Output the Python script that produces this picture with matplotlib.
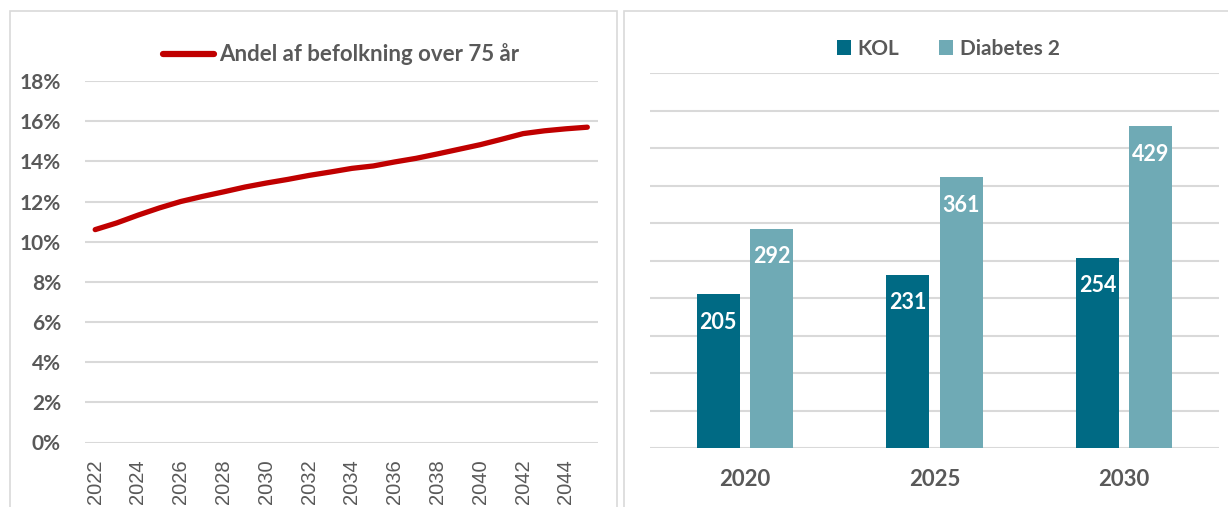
import matplotlib
matplotlib.use("Agg")
import matplotlib.pyplot as plt
from matplotlib.patches import Rectangle
from matplotlib.lines import Line2D

# ---- data ----
years = list(range(2022, 2046))
share_75plus = [10.6, 10.93, 11.32, 11.68, 12.0, 12.25, 12.48, 12.72, 12.92, 13.1,
                13.3, 13.47, 13.65, 13.77, 13.97, 14.15, 14.37, 14.6, 14.83, 15.1,
                15.38, 15.52, 15.62, 15.7]
line_label = "Andel af befolkning over 75 år"
year_ticks = list(range(2022, 2046, 2))
pct_ticks = [0, 2, 4, 6, 8, 10, 12, 14, 16, 18]

bar_categories = ["2020", "2025", "2030"]
kol = [205, 231, 254]
diabetes2 = [292, 361, 429]
series_names = ["KOL", "Diabetes 2"]

# ---- style ----
W, H = 1228, 507
GRAY = "#595959"
GRID = "#D9D9D9"
RED = "#C00000"
KOL_C = "#006A84"
DIA_C = "#6FAAB5"
BFONT = "Lato"
TFONT = "Liberation Sans"

fig = plt.figure(figsize=(W / 100, H / 100), dpi=100)
fig.patch.set_facecolor("white")


def fx(px):
    return px / W


def fy(py):
    return (H - py) / H


# panel borders
for (x0, x1) in [(10, 617), (624, 1240)]:
    fig.add_artist(Rectangle((fx(x0), fy(530)), fx(x1) - fx(x0), fy(10.5) - fy(530),
                             transform=fig.transFigure, fill=False,
                             edgecolor=GRID, linewidth=1.2))

# ---- left: line chart ----
axL = fig.add_axes([fx(84.5), fy(442.5), fx(598) - fx(84.5), fy(81) - fy(442.5)])
axL.plot(years, share_75plus, color=RED, linewidth=3.8, solid_capstyle="round")
axL.set_xlim(2021.5, 2045.5)
axL.set_ylim(0, 18)
axL.set_yticks(pct_ticks)
axL.set_yticklabels([f"{v}%" for v in pct_ticks], fontfamily=BFONT,
                    fontweight="bold", fontsize=15, color=GRAY)
axL.set_xticks(year_ticks)
axL.set_xticklabels([str(y) for y in year_ticks], rotation=90, fontfamily=TFONT,
                    fontsize=14.5, color=GRAY, va="top")
axL.tick_params(axis="both", length=0)
axL.tick_params(axis="y", pad=17)
axL.tick_params(axis="x", pad=12)
axL.grid(axis="y", color=GRID, linewidth=1.5)
axL.set_axisbelow(True)
for s in axL.spines.values():
    s.set_visible(False)

# left legend (manual)
fig.add_artist(Line2D([fx(163), fx(214)], [fy(54), fy(54)], transform=fig.transFigure,
                      color=RED, linewidth=4.5, solid_capstyle="round"))
fig.text(fx(219), fy(54), line_label, fontfamily=BFONT, fontweight="bold",
         fontsize=16, color=GRAY, va="center", ha="left")

# ---- right: bar chart ----
axR = fig.add_axes([fx(650), fy(448.3), fx(1219) - fx(650), fy(73) - fy(448.3)])
xs = list(range(len(bar_categories)))
bw = 0.226
off = 0.141
b1 = axR.bar([x - off for x in xs], kol, width=bw, color=KOL_C, label=series_names[0])
b2 = axR.bar([x + off for x in xs], diabetes2, width=bw, color=DIA_C, label=series_names[1])
for bars in (b1, b2):
    for r in bars:
        axR.annotate(f"{int(r.get_height())}", (r.get_x() + r.get_width() / 2, r.get_height()),
                     xytext=(0, -20), textcoords="offset points", ha="center", va="center",
                     fontfamily=BFONT, fontweight="bold", fontsize=15.5, color="white")
axR.set_xlim(-0.5, 2.5)
axR.set_ylim(0, 500)
axR.set_yticks(range(0, 501, 50))
axR.set_yticklabels([])
axR.set_xticks(xs)
axR.set_xticklabels(bar_categories, fontfamily=BFONT, fontweight="bold",
                    fontsize=16, color=GRAY)
axR.tick_params(axis="both", length=0)
axR.tick_params(axis="x", pad=15)
axR.grid(axis="y", color=GRID, linewidth=1.5)
axR.set_axisbelow(True)
for s in axR.spines.values():
    s.set_visible(False)

leg = axR.legend(loc="center", bbox_to_anchor=(fx(948), fy(49)),
                 bbox_transform=fig.transFigure, ncol=2, frameon=False,
                 prop={"family": BFONT, "weight": "bold", "size": 15},
                 handlelength=0.7, handleheight=0.7, handletextpad=0.3,
                 columnspacing=1.9, borderpad=0)
for t in leg.get_texts():
    t.set_color(GRAY)

fig.savefig("out.png", dpi=100, facecolor="white")
